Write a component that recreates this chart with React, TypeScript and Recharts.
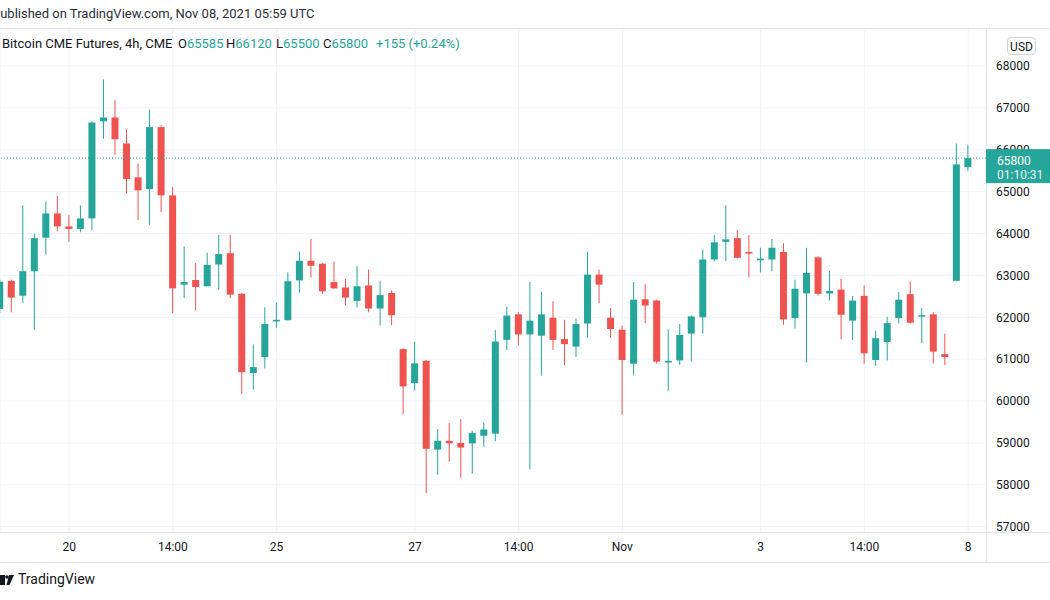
import React from "react";
import {
  ComposedChart,
  Bar,
  XAxis,
  YAxis,
  CartesianGrid,
  ReferenceLine,
} from "recharts";

// 4h candles
const opens = [
  62200, 62870, 62515, 63100, 63900, 64480, 64170, 64110, 64360, 66680,
  66770, 66150, 65340, 65060, 66540, 64910, 62780, 62890, 62740, 63260,
  63530, 62560, 60670, 61050, 61900, 61930, 62880, 63350, 63280, 62840,
  62710, 62390, 62760, 62210, 62580, 61240, 60430, 60960, 58840, 59050,
  59000, 58990, 59170, 59220, 61460, 62070, 61590, 61560, 61990, 61480,
  61300, 61850, 63020, 61990, 61700, 60890, 62430, 62400, 60920, 60970,
  61610, 62000, 63380, 63800, 63890, 63560, 63360, 63380, 63560, 61980,
  62570, 63430, 62570, 62660, 61920, 62510, 60980, 61410, 61980, 62550,
  62040, 62070, 61120, 62870, 65585,
];
const highs = [
  62900, 62900, 64670, 64000, 64760, 64900, 64440, 64670, 66680, 67680,
  67190, 66490, 65670, 66960, 66580, 65110, 63690, 63290, 63540, 63960,
  63960, 62580, 61350, 62240, 62350, 63070, 63570, 63870, 63290, 63330,
  62910, 63220, 63140, 62860, 62640, 61260, 61420, 60980, 59330, 59470,
  59570, 59290, 59490, 61700, 62250, 62120, 62840, 62610, 62380, 61940,
  61970, 63560, 63140, 62220, 61800, 62840, 62790, 62420, 61710, 61840,
  62040, 63620, 63960, 64670, 64080, 63960, 63660, 63870, 63770, 62900,
  63660, 63460, 63100, 62920, 62510, 62760, 61680, 62010, 62600, 62860,
  62220, 62120, 61610, 66150, 66120,
];
const lows = [
  62100, 62120, 62340, 61700, 63500, 64060, 63800, 64030, 64080, 66260,
  65880, 64950, 64320, 64210, 64510, 62100, 62460, 62160, 62740, 62660,
  62460, 60170, 60270, 60780, 61750, 61920, 62590, 62950, 62560, 62680,
  62280, 62230, 62120, 61800, 61810, 59690, 60250, 57800, 58240, 58550,
  58160, 58270, 58910, 59040, 61220, 61330, 58370, 60610, 61220, 60860,
  61050, 61510, 62340, 61510, 59670, 60610, 61860, 60890, 60250, 60860,
  60940, 61610, 63340, 63340, 63410, 62950, 63070, 63100, 61820, 61730,
  60920, 62520, 62400, 61480, 61460, 60890, 60840, 60970, 61850, 61850,
  61380, 60890, 60860, 62860, 65500,
];
const closes = [
  62850, 62470, 63100, 63890, 64480, 64170, 64110, 64360, 66650, 66770,
  66250, 65300, 65030, 66540, 64910, 62690, 62840, 62720, 63250, 63510,
  62540, 60690, 60810, 61840, 61940, 62860, 63350, 63230, 62620, 62690,
  62470, 62740, 62210, 62530, 62050, 60350, 60900, 58860, 59050, 58990,
  58890, 59240, 59320, 61420, 62040, 61590, 61920, 62070, 61460, 61360,
  61840, 63020, 62780, 61720, 60980, 62420, 62280, 60940, 60960, 61580,
  62020, 63380, 63790, 63860, 63420, 63520, 63400, 63660, 61950, 62680,
  63060, 62560, 62630, 62060, 62400, 61140, 61500, 61860, 62420, 61870,
  62050, 61180, 61050, 65650, 65800,
];

const tickIdx = [6, 15, 24, 36, 45, 54, 66, 75, 84];
const tickText = ["20", "14:00", "25", "27", "14:00", "Nov", "3", "14:00", "8"];
const priceTicks = [
  57000, 58000, 59000, 60000, 61000, 62000, 63000, 64000, 65000, 66000,
  67000, 68000,
];
const lastPrice = 65800;
const countdown = "01:10:31";

const UP = "#26a69a";
const DOWN = "#ef5350";
const TEXT = "#131722";
const LINE = "#e0e3eb";

const data = opens.map((o, i) => ({
  i,
  o,
  h: highs[i],
  l: lows[i],
  c: closes[i],
}));

const Candle = (props: any) => {
  const { x, y, width, height, payload } = props;
  if (!payload) return null;
  const { o, h, l, c } = payload;
  const top = Math.min(y, y + height);
  const full = Math.abs(height);
  const span = h - l || 1;
  const py = (v: number) => top + ((h - v) / span) * full;
  const color = c >= o ? UP : DOWN;
  const cx = x + width / 2;
  const bTop = py(Math.max(o, c));
  const bBot = py(Math.min(o, c));
  return (
    <g>
      <line x1={cx} x2={cx} y1={top} y2={top + full} stroke={color} strokeWidth={1} />
      <rect x={x} y={bTop} width={width} height={Math.max(bBot - bTop, 1.5)} fill={color} />
    </g>
  );
};

// price labels; the last price is drawn as the teal tag, after the others so it sits on top
const PriceTick = (props: any) => {
  const { x, y, payload } = props;
  if (payload.value === lastPrice) {
    return (
      <g>
        <rect x={x - 10} y={y - 9} width={64} height={34} fill={UP} />
        <text x={x + 1} y={y + 7} fill="#ffffff" fontSize={12}>
          {lastPrice}
        </text>
        <text x={x + 1} y={y + 21} fill="#e6f4f3" fontSize={12}>
          {countdown}
        </text>
      </g>
    );
  }
  return (
    <text x={x} y={y} dy="0.355em" fill={TEXT} fontSize={12} textAnchor="start">
      {payload.value}
    </text>
  );
};

const abs = (s: React.CSSProperties): React.CSSProperties => ({ position: "absolute", ...s });

export default function App() {
  return (
    <div
      style={abs({
        left: 0,
        top: 0,
        width: 1050,
        height: 600,
        background: "#fff",
        overflow: "hidden",
        fontFamily: "Roboto, sans-serif",
        color: TEXT,
      })}
    >
      <ComposedChart
        width={1050}
        height={600}
        data={data}
        margin={{ top: 29, right: 0, bottom: 38, left: 0 }}
        style={{ position: "absolute", left: 0, top: 0 }}
      >
        <CartesianGrid stroke="#f0f3fa" horizontalValues={priceTicks} />
        <XAxis
          type="number"
          dataKey="i"
          domain={[0, 85.55]}
          allowDataOverflow
          ticks={tickIdx}
          interval={0}
          tickFormatter={(v: number) => tickText[tickIdx.indexOf(v)]}
          axisLine={false}
          tickLine={false}
          tickSize={0}
          tickMargin={10}
          height={30}
          tick={{ fill: TEXT, fontSize: 12 }}
        />
        <YAxis
          orientation="right"
          domain={[56873, 68883]}
          allowDataOverflow
          ticks={[...priceTicks, lastPrice]}
          interval={0}
          axisLine={false}
          tickLine={false}
          tickSize={0}
          tickMargin={10}
          width={64}
          tick={<PriceTick />}
        />
        <ReferenceLine y={lastPrice} stroke={UP} strokeDasharray="1 2" />
        <Bar
          dataKey={(d: any) => [d.l, d.h]}
          barSize={7}
          shape={(p: any) => <Candle {...p} />}
          isAnimationActive={false}
        />
      </ComposedChart>

      {/* frame lines */}
      <div style={abs({ left: 0, top: 28, width: 1050, height: 1, background: LINE })} />
      <div style={abs({ left: 0, top: 532, width: 1050, height: 1, background: LINE })} />
      <div style={abs({ left: 0, top: 562, width: 1050, height: 1, background: LINE })} />
      <div style={abs({ left: 986, top: 29, width: 1, height: 119, background: LINE })} />
      <div style={abs({ left: 986, top: 183, width: 1, height: 380, background: LINE })} />

      <div style={abs({ left: -8, top: 6, fontSize: 13, whiteSpace: "nowrap", color: "#2a2e39" })}>
        Published on TradingView.com, Nov 08, 2021 05:59 UTC
      </div>

      <div style={abs({ left: 2, top: 36, fontSize: 13, whiteSpace: "nowrap" })}>
        Bitcoin CME Futures, 4h, CME
      </div>
      <div style={abs({ left: 178, top: 36, fontSize: 13, whiteSpace: "nowrap" })}>
        O<span style={{ color: UP }}>65585</span>
      </div>
      <div style={abs({ left: 226, top: 36, fontSize: 13, whiteSpace: "nowrap" })}>
        H<span style={{ color: UP }}>66120</span>
      </div>
      <div style={abs({ left: 276, top: 36, fontSize: 13, whiteSpace: "nowrap" })}>
        L<span style={{ color: UP }}>65500</span>
      </div>
      <div style={abs({ left: 323, top: 36, fontSize: 13, whiteSpace: "nowrap" })}>
        C<span style={{ color: UP }}>65800</span>
      </div>
      <div style={abs({ left: 376, top: 36, fontSize: 13, whiteSpace: "nowrap", color: UP })}>
        +155 (+0.24%)
      </div>

      <div
        style={abs({
          left: 1007,
          top: 37,
          width: 29,
          height: 18,
          border: "1px solid #d1d4dc",
          borderRadius: 4,
          fontSize: 12,
          lineHeight: "18px",
          textAlign: "center",
          boxSizing: "border-box",
        })}
      >
        USD
      </div>

      <svg style={abs({ left: 0, top: 574 })} width={14} height={12}>
        <rect x={0} y={1} width={5} height={10} fill={TEXT} />
        <circle cx={7} cy={3} r={1.8} fill={TEXT} />
        <path d="M9 1 L14 1 L9.5 11 L6.5 11 Z" fill={TEXT} />
      </svg>
      <div style={abs({ left: 18, top: 571, fontSize: 14, whiteSpace: "nowrap" })}>
        TradingView
      </div>
    </div>
  );
}
